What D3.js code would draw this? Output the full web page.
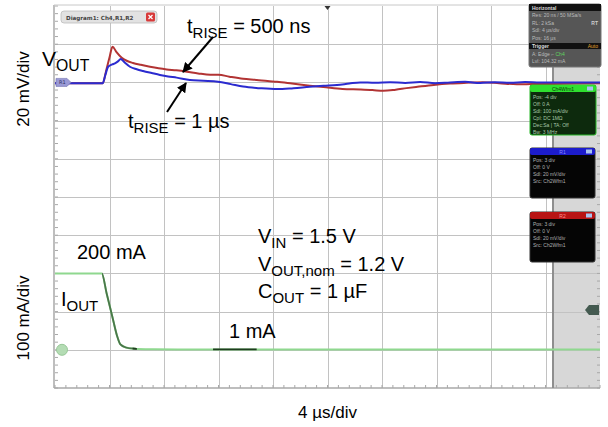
<!DOCTYPE html>
<html>
<head>
<meta charset="utf-8">
<script src="https://cdn.jsdelivr.net/npm/d3@7"></script>
<style>
  html, body { margin: 0; padding: 0; background: #fff; }
  svg { display: block; }
  text { font-family: "Liberation Sans", Arial, Helvetica, sans-serif; }
  .ui { font-family: "DejaVu Sans", "Liberation Sans", sans-serif; }
</style>
</head>
<body>
<svg id="chart" width="608" height="427"></svg>
<script>
// ---- Load-transient capture: time in µs, output voltage deviation in mV, load current in mA ----
const redTime  = [0, 1.5, 3.0, 3.5, 3.75, 4.0, 4.22, 4.5, 4.9, 5.3, 5.72, 6.3, 6.97, 7.6, 8.2, 8.9, 9.67, 10.5, 11.4, 12.0, 12.8, 13.8, 14.8, 15.6, 16.3, 17.4, 18.7, 19.9, 21.1, 22.4, 23.3, 24.1, 25.0, 25.8, 26.6, 27.8, 29.0, 30.2, 31.4, 32.6, 33.9, 35.0, 36.6, 38.3, 40];
const redVout  = [-0.4, -0.5, -0.4, -0.5, 6, 13, 18.7, 16, 12.9, 11.2, 10.2, 9.2, 8.2, 7.4, 6.8, 6.3, 5.6, 4.7, 4.0, 4.0, 3.0, 1.9, 1.3, 0.7, 0.3, -0.6, -1.7, -2.6, -3.4, -3.7, -4.0, -4.4, -3.8, -3.0, -2.3, -1.3, -0.6, -0.2, 0.1, -0.4, -1.0, -0.9, -0.8, -0.6, -0.5];

const blueTime = [0, 1.5, 3.0, 3.5, 3.7, 3.9, 4.2, 4.4, 4.62, 4.82, 5.1, 5.5, 6.0, 6.46, 7.1, 7.7, 8.3, 8.93, 9.9, 10.9, 11.96, 12.9, 13.8, 15.0, 16.3, 17.5, 18.7, 19.7, 20.7, 21.6, 22.4, 23.5, 24.6, 25.7, 26.8, 27.9, 29.0, 30.1, 31.2, 32.3, 33.4, 34.5, 35.6, 36.8, 38.4, 40];
const blueVout = [-0.4, -0.4, -0.5, -0.5, 4, 8.2, 9.4, 10.0, 11.0, 12.3, 10.5, 8.2, 6.9, 6.0, 4.9, 3.9, 3.1, 2.5, 1.3, 0.9, 0.4, -0.9, -2.2, -3.0, -3.5, -3.0, -2.3, -1.8, -1.4, -0.6, 0.0, -0.2, 0.1, -0.3, 0.2, -0.4, 0.0, 0.3, -0.3, 0.1, -0.2, 0.2, -0.1, 0.0, -0.1, -0.1];

const iTime    = [0, 3.43, 3.8, 4.2, 4.55, 4.8, 5.2, 5.8, 7.0, 9.0, 40];
const iOut     = [200, 200, 146, 88, 37, 14, 6, 3, 1.5, 1, 1];

// stretches of the current trace that show darker persistence
const darkSpans = [[3.45, 6.0, "#4a774a"], [5.7, 6.0, "#1f3d1f"], [11.6, 14.8, "#1f3d1f"]];

// graticule: 10 x 10 divisions
const timeTicks = [0, 4, 8, 12, 16, 20, 24, 28, 32, 36, 40];                        // 4 µs/div
const voltTicks = [-160, -140, -120, -100, -80, -60, -40, -20, 0, 20, 40];         // 20 mV/div

const svg = d3.select("#chart");
const L = 55, R = 600, T = 6, B = 388;

const x  = d3.scaleLinear().domain([0, 40]).range([L, R]);
const yV = d3.scaleLinear().domain([-160, 40]).range([B, T]);
const yI = d3.scaleLinear().domain([-100, 900]).range([B, T]);

// right-hand greyed strip of the scope screen
svg.append("rect").attr("x", 553).attr("y", 66).attr("width", R - 553).attr("height", B - 66).attr("fill", "#d7d7d7");

// graticule division lines
const gridPath = d3.path();
timeTicks.slice(1, -1).forEach(t => {
  const px = Math.round(x(t)) + 0.5;
  gridPath.moveTo(px, T); gridPath.lineTo(px, B);
});
voltTicks.slice(1, -1).forEach(v => {
  const py = Math.round(yV(v)) + 0.5;
  gridPath.moveTo(L, py); gridPath.lineTo(R, py);
});
svg.append("path").attr("d", gridPath.toString()).attr("fill", "none")
  .attr("stroke", "#c2c2c2").attr("stroke-width", 1);

// minor ticks along the screen edges (5 per division)
const tickPath = d3.path();
for (let k = 0; k <= 50; k++) {
  const px = x(k * 0.8), py = yV(-160 + k * 4);
  tickPath.moveTo(px, B - 3); tickPath.lineTo(px, B);
  tickPath.moveTo(L, py); tickPath.lineTo(L + 3, py);
  tickPath.moveTo(R - 3, py); tickPath.lineTo(R, py);
}
svg.append("path").attr("d", tickPath.toString()).attr("fill", "none").attr("stroke", "#a8a8a8").attr("stroke-width", 1);

// screen frame
svg.append("line").attr("x1", L - 1).attr("x2", L - 1).attr("y1", T - 1).attr("y2", B).attr("stroke", "#a9a9a9").attr("stroke-width", 1.5);
svg.append("line").attr("x1", L - 1).attr("x2", R).attr("y1", B).attr("y2", B).attr("stroke", "#a9a9a9").attr("stroke-width", 1.5);
svg.append("line").attr("x1", L - 1).attr("x2", R).attr("y1", T - 1).attr("y2", T - 1).attr("stroke", "#c8c8c8").attr("stroke-width", 1);
svg.append("line").attr("x1", 553).attr("x2", 553).attr("y1", 66).attr("y2", B).attr("stroke", "#8e8e8e").attr("stroke-width", 2);

// traces
const lineV = d3.line().x(d => x(d[0])).y(d => yV(d[1])).curve(d3.curveMonotoneX);
const lineI = d3.line().x(d => x(d[0])).y(d => yI(d[1])).curve(d3.curveMonotoneX);

const iPts = iTime.map((t, k) => [t, iOut[k]]);
svg.append("path").attr("d", lineI(iPts)).attr("fill", "none").attr("stroke", "#8fd88f").attr("stroke-width", 2);
darkSpans.forEach(([a, b, c]) => {
  const cp = `clip${Math.round(a * 10)}_${Math.round(b * 10)}`;
  svg.append("clipPath").attr("id", cp).append("rect")
    .attr("x", x(a)).attr("y", T).attr("width", x(b) - x(a)).attr("height", B - T);
  svg.append("path").attr("d", lineI(iPts)).attr("fill", "none")
    .attr("stroke", c).attr("stroke-width", 1.8).attr("clip-path", `url(#${cp})`);
});

svg.append("path").attr("d", lineV(redTime.map((t, k) => [t, redVout[k]])))
  .attr("fill", "none").attr("stroke", "#b23434").attr("stroke-width", 2);
svg.append("path").attr("d", lineV(blueTime.map((t, k) => [t, blueVout[k]])))
  .attr("fill", "none").attr("stroke", "#2b2bcf").attr("stroke-width", 2);

// channel reference markers
const gy = yV(0);
svg.append("path").attr("d", `M${L + 1},${gy - 4}h11l4,4l-4,4h-11z`).attr("fill", "#9a9ad6").attr("stroke", "#7070b0").attr("stroke-width", 0.6);
svg.append("text").attr("class", "ui").attr("x", L + 4).attr("y", gy + 2).attr("font-size", 5).attr("fill", "#303060").text("R1");
const iy = yI(0);
svg.append("circle").attr("cx", L + 7).attr("cy", iy).attr("r", 5.5).attr("fill", "#b4dcb4").attr("stroke", "#98c898");
// trigger level marker on the right
const ty = yI(104.32);
svg.append("path").attr("d", `M${R - 1},${ty - 5}h-10l-4,5l4,5h10z`).attr("fill", "#445a50");
// trigger position marker at top
svg.append("path").attr("d", `M${x(20) - 3},${T}h6l-3,4z`).attr("fill", "#333");

// diagram tab
svg.append("rect").attr("x", 61).attr("y", 11).attr("width", 96).attr("height", 12).attr("rx", 3)
  .attr("fill", "#e2e2e2").attr("stroke", "#bdbdbd").attr("stroke-width", 0.8);
svg.append("text").attr("class", "ui").attr("x", 66).attr("y", 19.5).attr("font-size", 5.6).attr("font-weight", "bold")
  .attr("fill", "#444").text("Diagram1: Ch4,R1,R2");
svg.append("rect").attr("x", 146).attr("y", 12.5).attr("width", 9).attr("height", 9).attr("rx", 1.5).attr("fill", "#d83a3a");
svg.append("path").attr("d", "M148.5,15l4,4M152.5,15l-4,4").attr("stroke", "#fff").attr("stroke-width", 1.2);

// scope info panels
function panel(px, py, w, h, headFill, headText, headColor, bodyFill, border, rows, rowColor) {
  const g = svg.append("g").attr("class", "ui");
  g.append("rect").attr("x", px).attr("y", py).attr("width", w).attr("height", h).attr("rx", 2)
    .attr("fill", bodyFill).attr("stroke", border).attr("stroke-width", 1);
  g.append("rect").attr("x", px).attr("y", py).attr("width", w).attr("height", 7).attr("rx", 2).attr("fill", headFill);
  g.append("text").attr("x", px + w / 2).attr("y", py + 5.5).attr("text-anchor", "middle")
    .attr("font-size", 5).attr("fill", headColor).text(headText);
  g.append("rect").attr("x", px + w - 9).attr("y", py + 1.5).attr("width", 6).attr("height", 4).attr("fill", "#a8c4f0");
  rows.forEach((r, k) => g.append("text").attr("x", px + 3).attr("y", py + 14 + k * 7)
    .attr("font-size", 5).attr("fill", rowColor).text(r));
  return g;
}

// horizontal / trigger settings
const hz = svg.append("g").attr("class", "ui");
hz.append("rect").attr("x", 529).attr("y", 4).attr("width", 72).attr("height", 63).attr("rx", 2).attr("fill", "#565656").attr("stroke", "#777");
hz.append("rect").attr("x", 529).attr("y", 4).attr("width", 72).attr("height", 7).attr("fill", "#111");
hz.append("text").attr("x", 532).attr("y", 9.5).attr("font-size", 5).attr("font-weight", "bold").attr("fill", "#ddd").text("Horizontal");
["Res: 20 ns / 50 MSa/s", "RL: 2 kSa", "Sdl: 4 µs/div", "Pos: 16 µs"].forEach((r, k) =>
  hz.append("text").attr("x", 532).attr("y", 17 + k * 7.5).attr("font-size", 5).attr("fill", "#bbb").text(r));
hz.append("text").attr("x", 598).attr("y", 24.5).attr("text-anchor", "end").attr("font-size", 5).attr("font-weight", "bold").attr("fill", "#ccc").text("RT");
hz.append("rect").attr("x", 529).attr("y", 43).attr("width", 72).attr("height", 6).attr("fill", "#111");
hz.append("text").attr("x", 532).attr("y", 47.8).attr("font-size", 5).attr("font-weight", "bold").attr("fill", "#ddd").text("Trigger");
hz.append("text").attr("x", 598).attr("y", 47.8).attr("text-anchor", "end").attr("font-size", 5).attr("fill", "#e0a030").text("Auto");
const trg = hz.append("text").attr("x", 532).attr("y", 56).attr("font-size", 5).attr("fill", "#bbb");
trg.append("tspan").text("A:   Edge  ⌐ ");
trg.append("tspan").attr("fill", "#5fd35f").text("Ch4");
hz.append("text").attr("x", 532).attr("y", 63).attr("font-size", 5).attr("fill", "#bbb").text("Lvl:  104.32 mA");

panel(530, 85, 66, 50, "#2fe02f", "Ch4Wfm1", "#0b3d0b", "#0d2a0d", "#29b829",
  ["Pos: -4 div", "Off: 0 A", "Sdl: 100 mA/div", "Cpl: DC 1MΩ", "Dec:Sa | TA: Off", "Bw: 3 MHz"], "#a8c8a8");
panel(530, 148, 65, 50, "#1c1ccc", "R1", "#8888ff", "#050505", "#333",
  ["Pos: 3 div", "Off: 0 V", "Sdl: 20 mV/div", "Src: Ch2Wfm1"], "#b0b0b0");
panel(530, 212, 65, 50, "#b81414", "R2", "#ff9090", "#050505", "#333",
  ["Pos: 3 div", "Off: 0 V", "Sdl: 20 mV/div", "Src: Ch2Wfm1"], "#b0b0b0");

// annotation arrows
svg.append("defs").append("marker").attr("id", "head").attr("viewBox", "0 0 10 10")
  .attr("refX", 9).attr("refY", 5).attr("markerWidth", 5).attr("markerHeight", 5).attr("orient", "auto")
  .append("path").attr("d", "M0,0L10,5L0,10z").attr("fill", "#000");
svg.append("line").attr("x1", 213).attr("y1", 37).attr("x2", 183).attr("y2", 72)
  .attr("stroke", "#000").attr("stroke-width", 2).attr("marker-end", "url(#head)");
svg.append("line").attr("x1", 167).attr("y1", 112).attr("x2", 186).attr("y2", 83)
  .attr("stroke", "#000").attr("stroke-width", 2).attr("marker-end", "url(#head)");

// labels with subscripts
function label(tx, ty, parts, size) {
  const t = svg.append("text").attr("x", tx).attr("y", ty).attr("font-size", size).attr("fill", "#000");
  let shift = 0;
  parts.forEach(([s, sub]) => {
    const sp = t.append("tspan").text(s);
    if (sub) { sp.attr("font-size", size * 0.75).attr("dy", 5 - shift); shift = 5; }
    else { sp.attr("dy", -shift); shift = 0; }
  });
  return t;
}
label(187, 33, [["t"], ["RISE", 1], [" = 500 ns"]], 20);
label(128, 128, [["t"], ["RISE", 1], [" = 1 µs"]], 20);
label(42, 66, [["V"], ["OUT", 1]], 21);
label(61, 306, [["I"], ["OUT", 1]], 20);
label(77, 259, [["200 mA"]], 20);
label(229, 338, [["1 mA"]], 20);
label(258, 243, [["V"], ["IN", 1], [" = 1.5 V"]], 20);
label(258, 271, [["V"], ["OUT,nom", 1], [" = 1.2 V"]], 20);
label(258, 298, [["C"], ["OUT", 1], [" = 1 µF"]], 20);

// scale annotations
svg.append("text").attr("transform", "translate(29,89) rotate(-90)").attr("text-anchor", "middle")
  .attr("font-size", 17).text("20 mV/div");
svg.append("text").attr("transform", "translate(29,318) rotate(-90)").attr("text-anchor", "middle")
  .attr("font-size", 17).text("100 mA/div");
svg.append("text").attr("x", x(20)).attr("y", 418).attr("text-anchor", "middle")
  .attr("font-size", 17).text("4 µs/div");
</script>
</body>
</html>
